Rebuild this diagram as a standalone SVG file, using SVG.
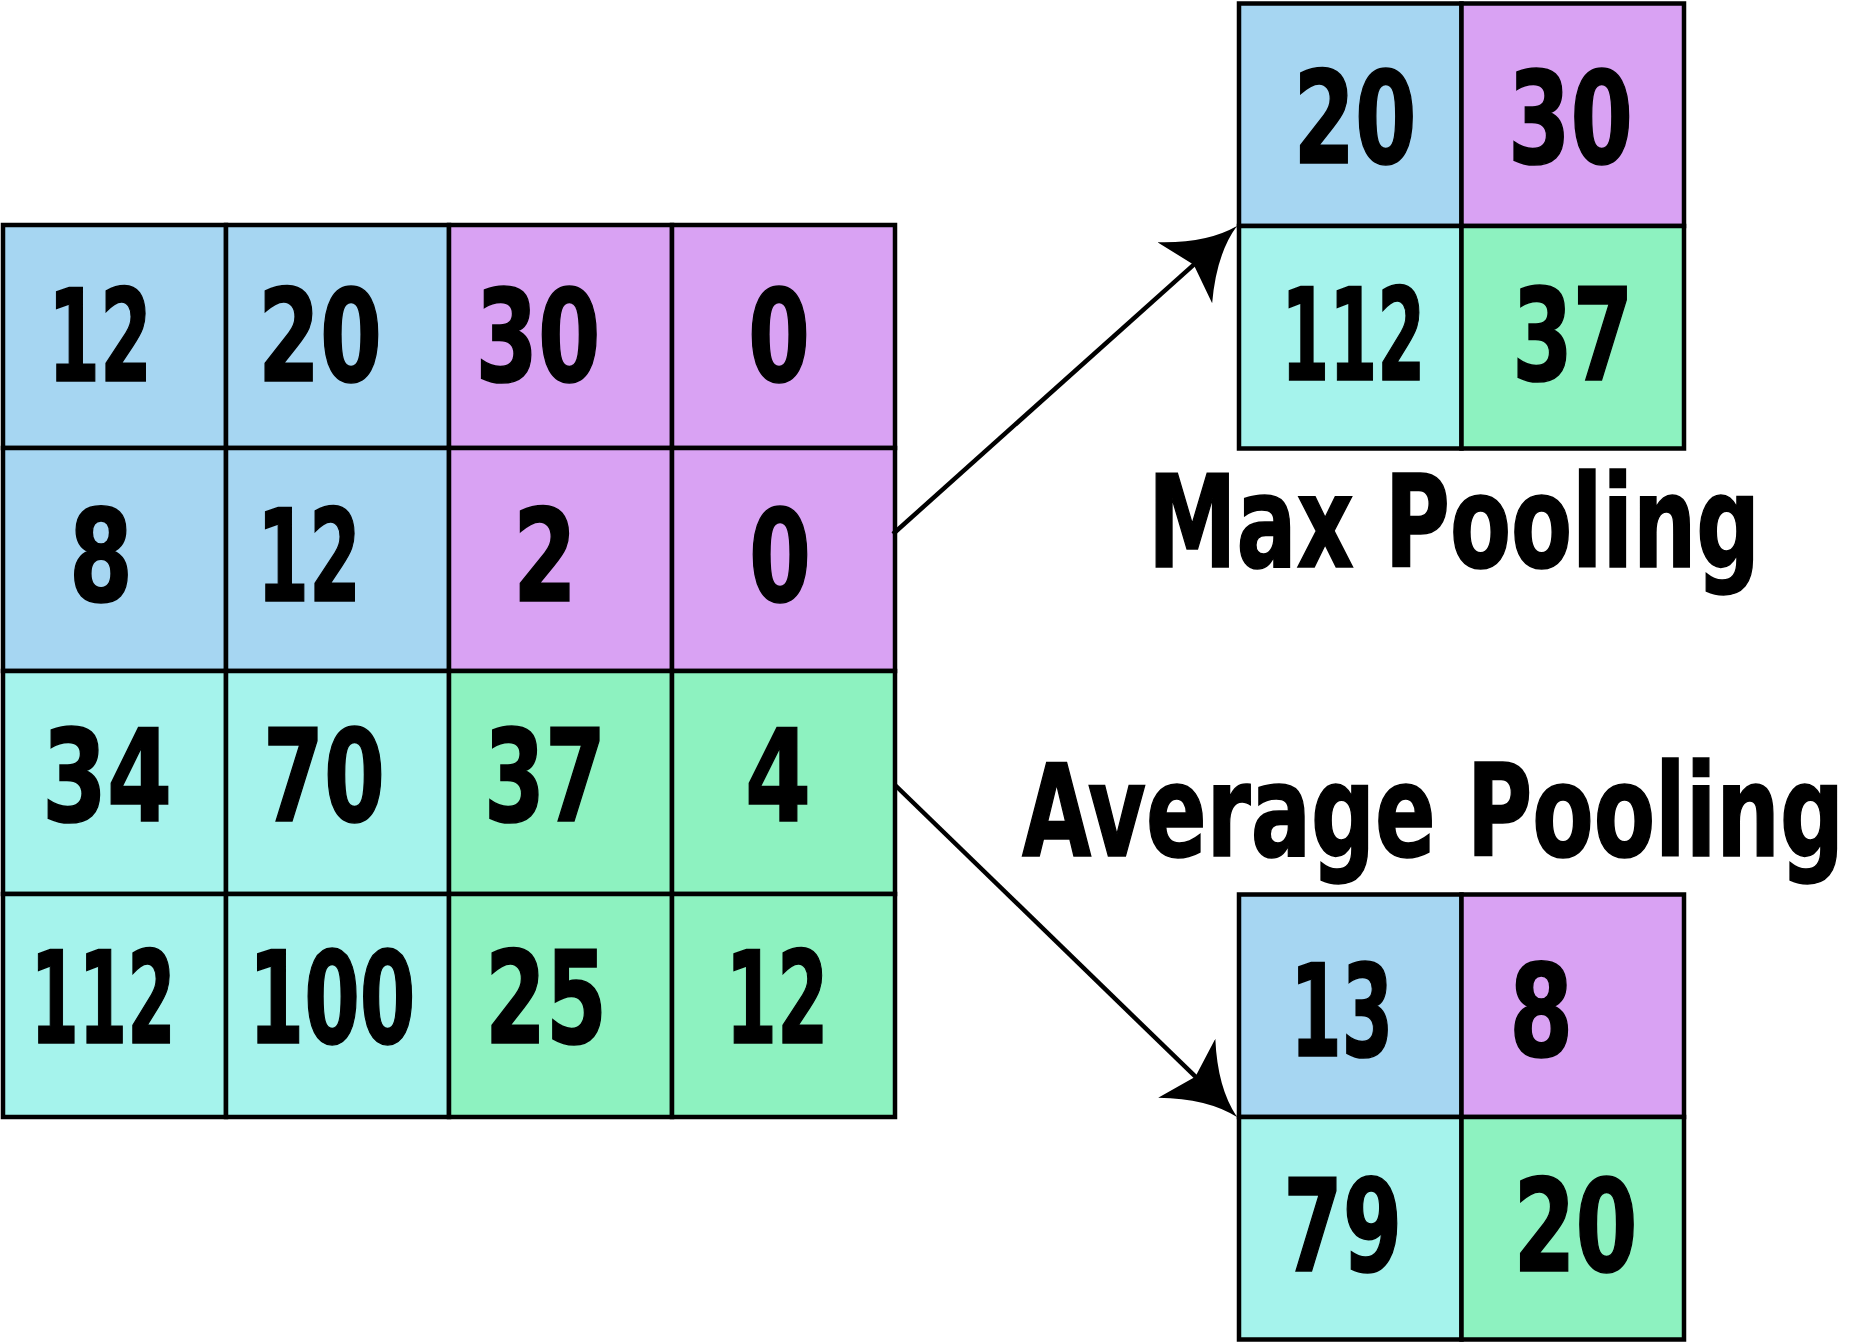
<svg xmlns="http://www.w3.org/2000/svg" width="1859" height="1343" viewBox="0 0 1859 1343">
<style>
.c{stroke:#000;stroke-width:4.5}
.b{fill:#A6D6F2}.p{fill:#D9A2F3}.t{fill:#A5F3EC}.g{fill:#8DF2C0}
.n{font-family:"DejaVu Sans Condensed","Liberation Sans",sans-serif;font-weight:bold;font-size:129px;fill:#000;stroke:#000;stroke-width:1.6;text-anchor:middle}
.l{font-family:"DejaVu Sans Condensed","Liberation Sans",sans-serif;font-weight:bold;font-size:128px;fill:#000;stroke:#000;stroke-width:1.6}
.e{fill:none;stroke:#000;stroke-width:4.5}
</style>
<defs>
<marker id="ah" markerUnits="userSpaceOnUse" viewBox="0 -45 75 90" markerWidth="75" markerHeight="90" refX="20" refY="0" orient="auto">
<path d="M70,0 Q36,-7 0,-41 L12,0 L0,41 Q36,7 70,0 Z" fill="#000"/>
</marker>
</defs>
<rect width="1859" height="1343" fill="#fff"/>
<g id="input-grid">
<rect class="c b" x="3" y="225" width="223" height="223"/>
<rect class="c b" x="226" y="225" width="223" height="223"/>
<rect class="c p" x="449" y="225" width="223" height="223"/>
<rect class="c p" x="672" y="225" width="223" height="223"/>
<rect class="c b" x="3" y="448" width="223" height="223"/>
<rect class="c b" x="226" y="448" width="223" height="223"/>
<rect class="c p" x="449" y="448" width="223" height="223"/>
<rect class="c p" x="672" y="448" width="223" height="223"/>
<rect class="c t" x="3" y="671" width="223" height="223"/>
<rect class="c t" x="226" y="671" width="223" height="223"/>
<rect class="c g" x="449" y="671" width="223" height="223"/>
<rect class="c g" x="672" y="671" width="223" height="223"/>
<rect class="c t" x="3" y="894" width="223" height="223"/>
<rect class="c t" x="226" y="894" width="223" height="223"/>
<rect class="c g" x="449" y="894" width="223" height="223"/>
<rect class="c g" x="672" y="894" width="223" height="223"/>
<text class="n" x="100" y="381" textLength="104" lengthAdjust="spacingAndGlyphs">12</text>
<text class="n" x="320" y="381" textLength="124" lengthAdjust="spacingAndGlyphs">20</text>
<text class="n" x="538" y="381" textLength="125" lengthAdjust="spacingAndGlyphs">30</text>
<text class="n" x="779" y="381" textLength="62" lengthAdjust="spacingAndGlyphs">0</text>
<text class="n" x="101" y="601" textLength="64" lengthAdjust="spacingAndGlyphs">8</text>
<text class="n" x="309" y="601" textLength="104" lengthAdjust="spacingAndGlyphs">12</text>
<text class="n" x="545" y="601" textLength="64" lengthAdjust="spacingAndGlyphs">2</text>
<text class="n" x="780" y="601" textLength="62" lengthAdjust="spacingAndGlyphs">0</text>
<text class="n" x="107" y="821" textLength="130" lengthAdjust="spacingAndGlyphs">34</text>
<text class="n" x="324" y="821" textLength="122" lengthAdjust="spacingAndGlyphs">70</text>
<text class="n" x="545" y="821" textLength="122" lengthAdjust="spacingAndGlyphs">37</text>
<text class="n" x="778" y="821" textLength="66" lengthAdjust="spacingAndGlyphs">4</text>
<text class="n" x="103" y="1042.5" textLength="145" lengthAdjust="spacingAndGlyphs">112</text>
<text class="n" x="332" y="1042.5" textLength="167" lengthAdjust="spacingAndGlyphs">100</text>
<text class="n" x="546" y="1042.5" textLength="122" lengthAdjust="spacingAndGlyphs">25</text>
<text class="n" x="777" y="1042.5" textLength="103" lengthAdjust="spacingAndGlyphs">12</text>
</g>
<g id="max-pool-grid">
<rect class="c b" x="1239" y="3.5" width="222.5" height="222.5"/>
<rect class="c p" x="1461.5" y="3.5" width="222.5" height="222.5"/>
<rect class="c t" x="1239" y="226" width="222.5" height="222.5"/>
<rect class="c g" x="1461.5" y="226" width="222.5" height="222.5"/>
<text class="n" x="1355" y="163.3" textLength="123" lengthAdjust="spacingAndGlyphs">20</text>
<text class="n" x="1570.5" y="163.3" textLength="125" lengthAdjust="spacingAndGlyphs">30</text>
<text class="n" x="1353.3" y="380" textLength="144" lengthAdjust="spacingAndGlyphs">112</text>
<text class="n" x="1572.8" y="380" textLength="121" lengthAdjust="spacingAndGlyphs">37</text>
</g>
<g id="max-pool-label">
<text class="l" x="1148" y="567" textLength="612" lengthAdjust="spacingAndGlyphs">Max Pooling</text>
</g>
<g id="avg-pool-label">
<text class="l" x="1022" y="856" textLength="822" lengthAdjust="spacingAndGlyphs">Average Pooling</text>
</g>
<g id="avg-pool-grid">
<rect class="c b" x="1239" y="894.5" width="222.5" height="222.5"/>
<rect class="c p" x="1461.5" y="894.5" width="222.5" height="222.5"/>
<rect class="c t" x="1239" y="1117" width="222.5" height="222.5"/>
<rect class="c g" x="1461.5" y="1117" width="222.5" height="222.5"/>
<text class="n" x="1341.7" y="1056" textLength="103" lengthAdjust="spacingAndGlyphs">13</text>
<text class="n" x="1541.2" y="1056" textLength="64" lengthAdjust="spacingAndGlyphs">8</text>
<text class="n" x="1342.8" y="1271" textLength="119" lengthAdjust="spacingAndGlyphs">79</text>
<text class="n" x="1575.5" y="1271" textLength="124" lengthAdjust="spacingAndGlyphs">20</text>
</g>
<g id="connectors">
<line class="e" x1="893" y1="534" x2="1199.7" y2="259.4" marker-end="url(#ah)"/>
<line class="e" x1="895" y1="785" x2="1201.1" y2="1082.2" marker-end="url(#ah)"/>
</g>
</svg>
